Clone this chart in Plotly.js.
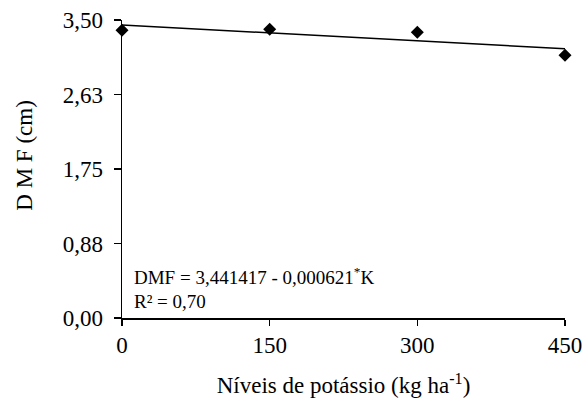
<!DOCTYPE html>
<html><head><meta charset="utf-8">
<script src="https://cdn.plot.ly/plotly-3.0.1.min.js"></script>
<style>body{margin:0;background:#fff}#c{width:587px;height:412px}</style>
</head><body><div id="c"></div>
<script>
const doses = [0, 150, 300, 450];
const dmf = [3.38, 3.39, 3.355, 3.086];
const intercept = 3.441417;
const slope = -0.000621;
const yTickVals = [0, 0.875, 1.75, 2.625, 3.5];
const yTickText = ['0,00', '0,88', '1,75', '2,63', '3,50'];
const xTickVals = [0, 150, 300, 450];

const lineX = [0, 450];
const lineY = lineX.map(x => intercept + slope * x);

const fam = 'Liberation Serif, Times New Roman, serif';
const f = s => ({family: fam, size: s, color: '#000'});

Plotly.newPlot('c', [
  {x: lineX, y: lineY, mode: 'lines', line: {color: '#000', width: 1.5}, hoverinfo: 'skip', cliponaxis: false},
  {x: doses, y: dmf, mode: 'markers', marker: {symbol: 'diamond', size: 10, color: '#000'}, cliponaxis: false}
], {
  width: 587, height: 412,
  margin: {l: 122, r: 22, t: 20, b: 94},
  paper_bgcolor: '#fff', plot_bgcolor: '#fff',
  showlegend: false,
  font: f(20),
  xaxis: {
    range: [0, 450], tickvals: xTickVals, ticktext: xTickVals.map(String),
    showgrid: false, zeroline: false, showline: true, linecolor: '#000', linewidth: 1.5,
    ticks: 'outside', ticklen: 6, tickcolor: '#000', tickwidth: 1.5,
    tickfont: f(23),
    title: {text: 'Níveis de potássio (kg ha<sup>-1</sup>)', font: f(23), standoff: 20}
  },
  yaxis: {
    range: [0, 3.5], tickvals: yTickVals, ticktext: yTickText,
    showgrid: false, zeroline: false, showline: true, linecolor: '#000', linewidth: 1.5,
    ticks: 'outside', ticklen: 7, tickcolor: '#000', tickwidth: 1.5, ticklabelstandoff: 6,
    tickfont: f(23)
  },
  annotations: [
    {xref: 'paper', yref: 'paper', x: -0.221, y: 0.545, xanchor: 'center', yanchor: 'middle', showarrow: false,
     textangle: -90, text: 'D M F (cm)', font: f(23)},
    {xref: 'paper', yref: 'paper', x: 0.022, y: 0.14, xanchor: 'left', yanchor: 'middle', showarrow: false,
     text: 'DMF = 3,441417 - 0,000621<sup>*</sup>K', font: f(19)},
    {xref: 'paper', yref: 'paper', x: 0.022, y: 0.057, xanchor: 'left', yanchor: 'middle', showarrow: false,
     text: 'R² = 0,70', font: f(19)}
  ]
}, {displayModeBar: false, staticPlot: true});
</script></body></html>
